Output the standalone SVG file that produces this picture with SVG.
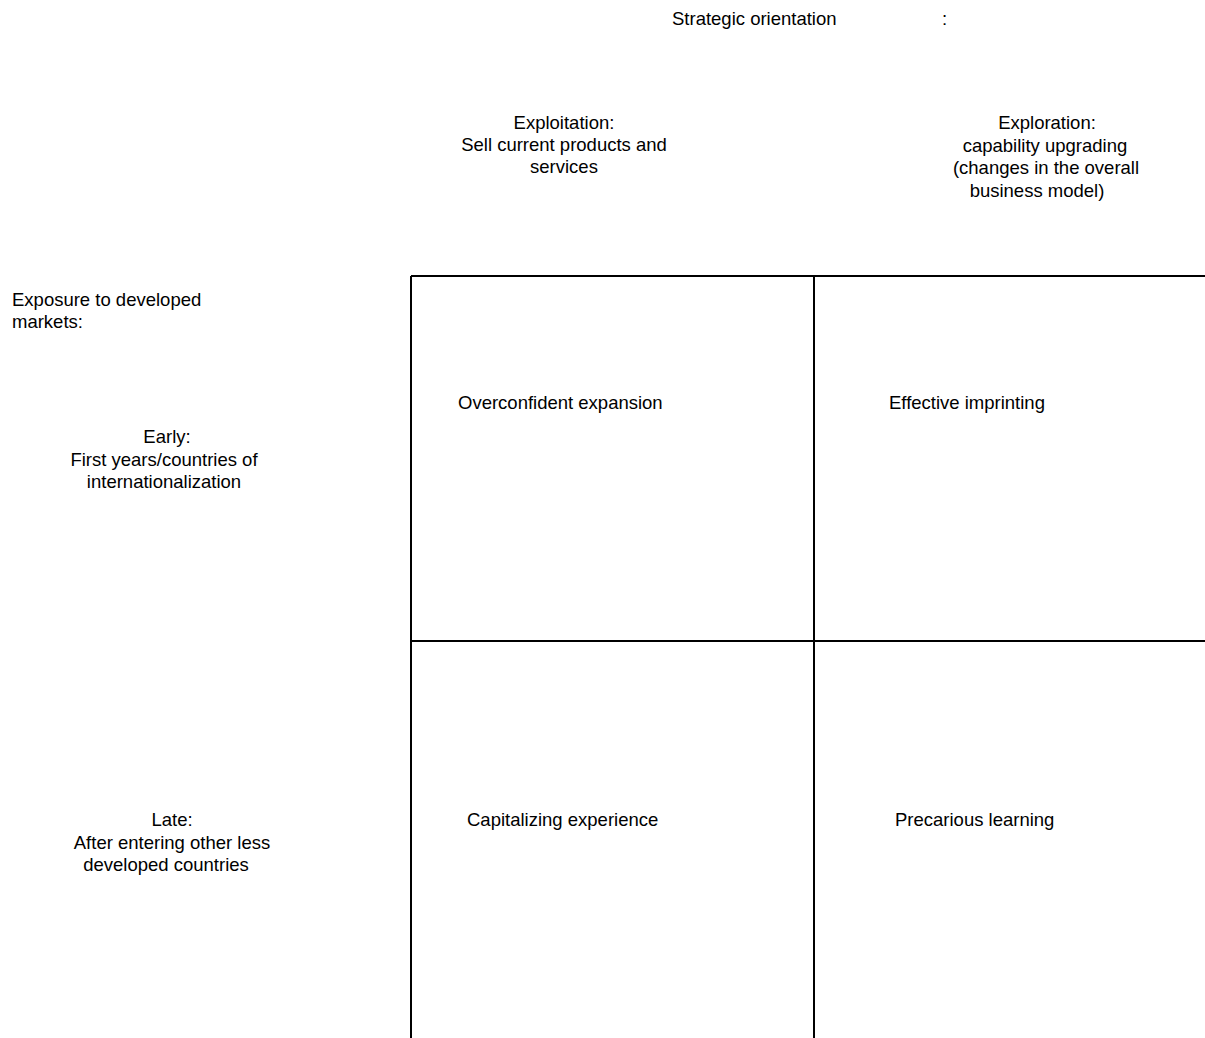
<svg xmlns="http://www.w3.org/2000/svg" width="1205" height="1038" viewBox="0 0 1205 1038">
<style>
text{font-family:"Liberation Sans",Arial,sans-serif;font-size:18.5px;fill:#000}
.c{text-anchor:middle}
.ln{stroke:#000;stroke-width:2;fill:none}
</style>
<rect width="1205" height="1038" fill="#fff"/>
<g id="header">
<text x="672" y="25">Strategic orientation</text>
<text x="942" y="25">:</text>
</g>
<g id="col-exploitation">
<text class="c" x="564" y="129">Exploitation:</text>
<text class="c" x="564" y="151">Sell current products and</text>
<text class="c" x="564" y="173">services</text>
</g>
<g id="col-exploration">
<text class="c" x="1047" y="129">Exploration:</text>
<text class="c" x="1045" y="152">capability upgrading</text>
<text class="c" x="1046" y="174">(changes in the overall</text>
<text class="c" x="1037" y="197">business model)</text>
</g>
<g id="row-header">
<text x="12" y="306">Exposure to developed</text>
<text x="12" y="328">markets:</text>
</g>
<g id="row-early">
<text class="c" x="167" y="443">Early:</text>
<text class="c" x="164" y="466">First years/countries of</text>
<text class="c" x="164" y="488">internationalization</text>
</g>
<g id="row-late">
<text class="c" x="172" y="826">Late:</text>
<text class="c" x="172" y="849">After entering other less</text>
<text class="c" x="166" y="871">developed countries</text>
</g>
<g id="grid">
<path class="ln" d="M411 276 H1205 M411 276 V1038 M814 276 V1038 M411 641 H1205"/>
</g>
<g id="cell-oe"><text x="458" y="409">Overconfident expansion</text></g>
<g id="cell-ei"><text x="889" y="409">Effective imprinting</text></g>
<g id="cell-ce"><text x="467" y="826">Capitalizing experience</text></g>
<g id="cell-pl"><text x="895" y="826">Precarious learning</text></g>
</svg>
